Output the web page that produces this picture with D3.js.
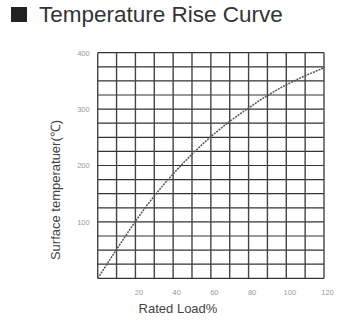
<!DOCTYPE html>
<html>
<head>
<meta charset="utf-8">
<script src="https://cdn.jsdelivr.net/npm/d3@7/dist/d3.min.js"></script>
<style>
  body { margin: 0; background: #fff; }
  svg { display: block; font-family: "Liberation Sans", Arial, sans-serif; }
</style>
</head>
<body>
<div id="chart"></div>
<script>
// values
var loadPct = [0, 10, 20, 30, 40, 50, 60, 70, 80, 90, 100, 110, 120];
var tempRise = [0, 51, 101, 146, 185, 220, 251, 278, 302, 324, 343, 359, 373];
var xTicks = [20, 40, 60, 80, 100, 120];
var yTicks = [100, 200, 300, 400];
var xGrid = d3.range(0, 121, 10);
var yGrid = d3.range(0, 401, 25);

var width = 348, height = 321;
var plotLeft = 97.7, plotRight = 324, plotTop = 52.7, plotBottom = 278.3;

var svg = d3.select("#chart").append("svg")
    .attr("width", width)
    .attr("height", height);

// title
svg.append("rect")
    .attr("x", 11).attr("y", 7)
    .attr("width", 16).attr("height", 15)
    .attr("fill", "#222");
svg.append("text")
    .attr("x", 39).attr("y", 22)
    .attr("font-size", 22.5)
    .attr("fill", "#333")
    .text("Temperature Rise Curve");

var x = d3.scaleLinear().domain([0, 120]).range([plotLeft, plotRight]);
var y = d3.scaleLinear().domain([0, 400]).range([plotBottom, plotTop]);

// grid
svg.append("g").selectAll("line")
    .data(yGrid)
    .enter().append("line")
    .attr("x1", plotLeft).attr("x2", plotRight)
    .attr("y1", function(d) { return y(d); })
    .attr("y2", function(d) { return y(d); })
    .attr("stroke", "#333")
    .attr("stroke-width", 1.2);

svg.append("g").selectAll("line")
    .data(xGrid)
    .enter().append("line")
    .attr("y1", plotTop).attr("y2", plotBottom)
    .attr("x1", function(d) { return x(d); })
    .attr("x2", function(d) { return x(d); })
    .attr("stroke", "#444")
    .attr("stroke-width", 1.4);

// tick labels
svg.append("g")
    .attr("transform", "translate(3," + (plotBottom + 8) + ")")
    .call(d3.axisBottom(x).tickValues(xTicks).tickSize(0))
    .call(function(g) { g.select(".domain").remove(); })
    .selectAll("text")
    .attr("fill", "#999")
    .attr("font-size", 7.5)
    .attr("font-family", "Liberation Sans, Arial, sans-serif");

svg.append("g")
    .attr("transform", "translate(" + (plotLeft - 5) + ",0)")
    .call(d3.axisLeft(y).tickValues(yTicks).tickSize(0))
    .call(function(g) { g.select(".domain").remove(); })
    .selectAll("text")
    .attr("fill", "#999")
    .attr("font-size", 7.5)
    .attr("font-family", "Liberation Sans, Arial, sans-serif");

// curve
var line = d3.line()
    .x(function(d, i) { return x(loadPct[i]); })
    .y(function(d) { return y(d); })
    .curve(d3.curveMonotoneX);

svg.append("path")
    .datum(tempRise)
    .attr("d", line)
    .attr("fill", "none")
    .attr("stroke", "#555")
    .attr("stroke-width", 1.5)
    .attr("stroke-dasharray", "2,1");

svg.append("text")
    .attr("text-anchor", "middle")
    .attr("x", 178).attr("y", 313)
    .attr("font-size", 13)
    .attr("fill", "#444")
    .text("Rated Load%");

svg.append("text")
    .attr("text-anchor", "middle")
    .attr("transform", "translate(60,190) rotate(-90)")
    .attr("font-size", 13)
    .attr("fill", "#444")
    .text("Surface temperatuer(℃)");
</script>
</body>
</html>
